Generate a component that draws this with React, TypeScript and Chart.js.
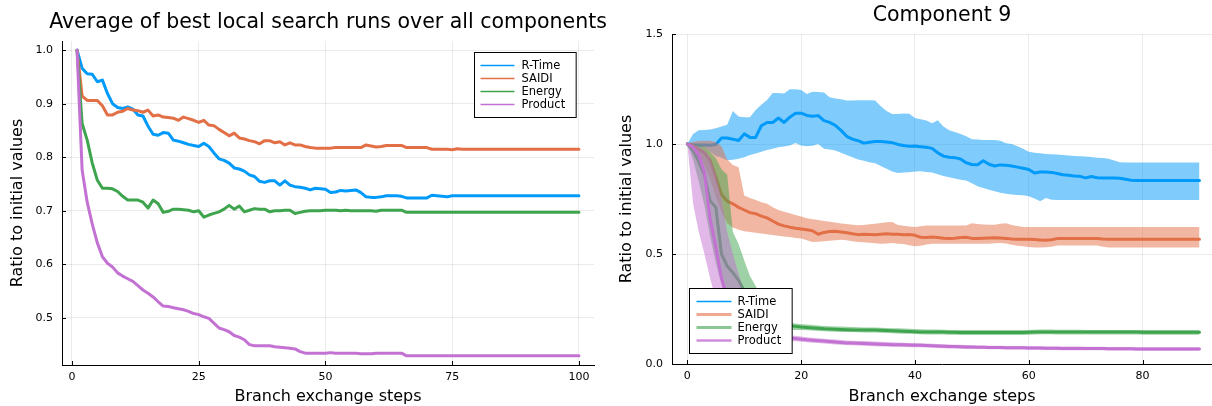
import React, { useEffect, useRef } from "react";
import { Chart, registerables } from "chart.js";
Chart.register(...registerables);

const FONT = "'DejaVu Sans', sans-serif";
const SERIES_NAMES = ["R-Time", "SAIDI", "Energy", "Product"];
const SERIES_COLORS = ["#009AFA", "#E36F47", "#3EA44E", "#C371D2"];
const RIBBON_COLORS = [
  "rgba(0,154,250,0.5)",
  "rgba(227,111,71,0.5)",
  "rgba(62,164,78,0.5)",
  "rgba(195,113,210,0.5)",
];

// ---------- Left chart: average of best local search runs ----------
const LEFT_TITLE = "Average of best local search runs over all components";
const avgSteps = Array.from({ length: 100 }, (_, i) => i + 1);
const avgXTicks = [0, 25, 50, 75, 100];
const avgYTicks = [0.5, 0.6, 0.7, 0.8, 0.9, 1.0];

const rtimeAvg = [
  1.0, 0.966, 0.956, 0.955, 0.941, 0.944, 0.919, 0.9, 0.893, 0.891,
  0.894, 0.89, 0.879, 0.877, 0.858, 0.843, 0.841, 0.846, 0.845, 0.832,
  0.83, 0.827, 0.824, 0.822, 0.82, 0.826, 0.82, 0.808, 0.797, 0.794,
  0.789, 0.78, 0.778, 0.774, 0.767, 0.764, 0.755, 0.753, 0.756, 0.756,
  0.748, 0.756, 0.748, 0.745, 0.744, 0.742, 0.739, 0.742, 0.741, 0.74,
  0.734, 0.735, 0.738, 0.737, 0.738, 0.739, 0.734, 0.726, 0.725, 0.725,
  0.726, 0.728, 0.728, 0.728, 0.727, 0.724, 0.724, 0.724, 0.724, 0.724,
  0.729, 0.728, 0.727, 0.726, 0.728, 0.728, 0.728, 0.728, 0.728, 0.728,
  0.728, 0.728, 0.728, 0.728, 0.728, 0.728, 0.728, 0.728, 0.728, 0.728,
  0.728, 0.728, 0.728, 0.728, 0.728, 0.728, 0.728, 0.728, 0.728, 0.728,
];
const saidiAvg = [
  1.0, 0.914, 0.906, 0.906, 0.906, 0.896, 0.879, 0.879, 0.884, 0.886,
  0.891, 0.888, 0.887, 0.884, 0.888, 0.877, 0.879, 0.875, 0.874, 0.873,
  0.869, 0.875, 0.872, 0.869, 0.865, 0.869, 0.86, 0.859, 0.852, 0.846,
  0.84, 0.845, 0.836, 0.834, 0.831, 0.829, 0.825, 0.831, 0.831, 0.827,
  0.829, 0.823, 0.827, 0.823, 0.823, 0.82, 0.818, 0.817, 0.817, 0.817,
  0.817, 0.818, 0.818, 0.818, 0.818, 0.818, 0.818, 0.823, 0.821, 0.819,
  0.82, 0.822, 0.822, 0.822, 0.822, 0.818, 0.818, 0.818, 0.818, 0.818,
  0.815, 0.815, 0.815, 0.815, 0.814, 0.816, 0.815, 0.815, 0.815, 0.815,
  0.815, 0.815, 0.815, 0.815, 0.815, 0.815, 0.815, 0.815, 0.815, 0.815,
  0.815, 0.815, 0.815, 0.815, 0.815, 0.815, 0.815, 0.815, 0.815, 0.815,
];
const energyAvg = [
  1.0, 0.863, 0.832, 0.789, 0.757, 0.742, 0.742, 0.741, 0.736, 0.727,
  0.72, 0.72, 0.72, 0.716, 0.705, 0.72, 0.713, 0.697, 0.699, 0.703,
  0.703, 0.702, 0.701, 0.698, 0.7, 0.688, 0.692, 0.695, 0.698, 0.703,
  0.71, 0.703, 0.709, 0.698, 0.701, 0.704, 0.703, 0.703, 0.698, 0.7,
  0.7, 0.701, 0.701, 0.695, 0.697, 0.699, 0.7, 0.7, 0.7, 0.701,
  0.701, 0.701, 0.7, 0.701, 0.7, 0.7, 0.7, 0.7, 0.7, 0.699,
  0.701, 0.701, 0.701, 0.701, 0.701, 0.697, 0.697, 0.697, 0.697, 0.697,
  0.697, 0.697, 0.697, 0.697, 0.697, 0.697, 0.697, 0.697, 0.697, 0.697,
  0.697, 0.697, 0.697, 0.697, 0.697, 0.697, 0.697, 0.697, 0.697, 0.697,
  0.697, 0.697, 0.697, 0.697, 0.697, 0.697, 0.697, 0.697, 0.697, 0.697,
];
const productAvg = [
  1.0, 0.776, 0.716, 0.675, 0.64, 0.614, 0.602, 0.595, 0.584, 0.578,
  0.573, 0.568, 0.56, 0.552, 0.546, 0.539, 0.53, 0.522, 0.521, 0.519,
  0.517, 0.515, 0.512, 0.508, 0.506, 0.502, 0.499, 0.49, 0.481, 0.478,
  0.474, 0.467, 0.464, 0.459, 0.45, 0.448, 0.448, 0.448, 0.448, 0.446,
  0.445, 0.444, 0.443, 0.442, 0.437, 0.434, 0.434, 0.434, 0.434, 0.434,
  0.435, 0.434, 0.434, 0.434, 0.434, 0.434, 0.433, 0.433, 0.433, 0.434,
  0.434, 0.434, 0.434, 0.434, 0.434, 0.429, 0.429, 0.429, 0.429, 0.429,
  0.429, 0.429, 0.429, 0.429, 0.429, 0.429, 0.429, 0.429, 0.429, 0.429,
  0.429, 0.429, 0.429, 0.429, 0.429, 0.429, 0.429, 0.429, 0.429, 0.429,
  0.429, 0.429, 0.429, 0.429, 0.429, 0.429, 0.429, 0.429, 0.429, 0.429,
];

// ---------- Right chart: Component 9 (mean with ribbons) ----------
const RIGHT_TITLE = "Component 9";
const compSteps = Array.from({ length: 91 }, (_, i) => i);
const compXTicks = [0, 20, 40, 60, 80];
const compYTicks = [0.0, 0.5, 1.0, 1.5];

const rtimeMean = [
  1.0, 0.997, 0.995, 0.995, 0.994, 0.998, 1.027, 1.027, 1.022, 1.016,
  1.046, 1.03, 1.03, 1.083, 1.098, 1.098, 1.118, 1.098, 1.122, 1.14,
  1.14, 1.13, 1.126, 1.129, 1.106, 1.098, 1.085, 1.062, 1.035, 1.022,
  1.015, 1.004, 1.008, 1.011, 1.011, 1.009, 1.006, 0.998, 0.993, 0.99,
  0.991, 0.988, 0.985, 0.98, 0.96, 0.945, 0.94, 0.938, 0.932, 0.915,
  0.907, 0.906, 0.924, 0.908, 0.9, 0.905, 0.903, 0.9, 0.895, 0.89,
  0.884, 0.868, 0.873, 0.873, 0.871, 0.866, 0.86, 0.858, 0.855, 0.853,
  0.846, 0.852, 0.847, 0.846, 0.846, 0.846, 0.844, 0.84, 0.835, 0.834,
  0.834, 0.834, 0.834, 0.834, 0.834, 0.834, 0.834, 0.834, 0.834, 0.834, 0.834,
];
const rtimeUpper = [
  1.0, 1.045, 1.062, 1.064, 1.066, 1.072, 1.08, 1.088, 1.15, 1.125,
  1.122, 1.122, 1.155, 1.178, 1.2, 1.232, 1.232, 1.23, 1.249, 1.249,
  1.245, 1.227, 1.238, 1.236, 1.234, 1.212, 1.207, 1.203, 1.198, 1.198,
  1.199, 1.199, 1.199, 1.198, 1.172, 1.15, 1.136, 1.136, 1.139, 1.137,
  1.118, 1.112, 1.107, 1.094, 1.108, 1.08, 1.063, 1.055, 1.046, 1.035,
  1.022, 1.02, 1.018, 1.018, 1.018, 1.015, 1.003, 1.0, 0.99, 0.978,
  0.965, 0.96, 0.958, 0.955, 0.953, 0.952, 0.95, 0.948, 0.946, 0.944,
  0.943, 0.941, 0.938, 0.936, 0.933, 0.925, 0.917, 0.916, 0.916, 0.916,
  0.916, 0.916, 0.916, 0.916, 0.916, 0.916, 0.916, 0.916, 0.916, 0.916, 0.916,
];
const rtimeLower = [
  1.0, 0.995, 0.99, 0.983, 0.965, 0.945, 0.937, 0.926, 0.928, 0.933,
  0.94, 0.95, 0.957, 0.965, 0.973, 0.978, 0.985, 0.989, 0.993, 1.004,
  0.993, 0.99, 0.992, 1.0, 0.978, 0.975, 0.97, 0.96, 0.95, 0.94,
  0.93, 0.924, 0.917, 0.912, 0.9, 0.888, 0.875, 0.868, 0.871, 0.872,
  0.875, 0.876, 0.873, 0.871, 0.862, 0.855, 0.849, 0.843, 0.838, 0.834,
  0.822, 0.808, 0.8, 0.792, 0.785, 0.778, 0.774, 0.77, 0.768, 0.767,
  0.762, 0.752, 0.74, 0.755, 0.747, 0.746, 0.746, 0.746, 0.746, 0.746,
  0.746, 0.746, 0.746, 0.746, 0.746, 0.746, 0.746, 0.746, 0.746, 0.746,
  0.746, 0.746, 0.746, 0.746, 0.746, 0.746, 0.746, 0.746, 0.746, 0.746, 0.746,
];
const saidiMean = [
  1.0, 0.992, 0.975, 0.96, 0.925, 0.85, 0.77, 0.74, 0.728, 0.712,
  0.7, 0.688, 0.683, 0.672, 0.664, 0.65, 0.636, 0.628, 0.622, 0.617,
  0.614, 0.61, 0.606, 0.59, 0.598, 0.602, 0.603, 0.6, 0.597, 0.592,
  0.588, 0.59, 0.589, 0.588, 0.59, 0.592, 0.59, 0.59, 0.588, 0.589,
  0.585, 0.576, 0.575, 0.577, 0.575, 0.572, 0.57, 0.572, 0.575, 0.576,
  0.571, 0.57, 0.572, 0.573, 0.574, 0.573, 0.571, 0.568, 0.567, 0.567,
  0.567, 0.566, 0.564, 0.562, 0.565, 0.57, 0.57, 0.57, 0.57, 0.57,
  0.57, 0.57, 0.57, 0.568, 0.567, 0.567, 0.567, 0.567, 0.567, 0.567,
  0.567, 0.567, 0.567, 0.567, 0.567, 0.567, 0.567, 0.567, 0.567, 0.567, 0.567,
];
const saidiUpper = [
  1.0, 1.01, 1.014, 1.015, 1.015, 1.008, 0.99, 0.93, 0.905, 0.894,
  0.766, 0.755, 0.745, 0.735, 0.728, 0.712, 0.7, 0.692, 0.685, 0.677,
  0.67, 0.663, 0.658, 0.654, 0.65, 0.647, 0.643, 0.639, 0.636, 0.633,
  0.631, 0.632, 0.635, 0.638, 0.641, 0.644, 0.645, 0.632, 0.628, 0.625,
  0.623, 0.626, 0.629, 0.63, 0.63, 0.63, 0.63, 0.63, 0.63, 0.63,
  0.64, 0.636, 0.634, 0.633, 0.633, 0.638, 0.64, 0.632, 0.627, 0.623,
  0.623, 0.623, 0.623, 0.623, 0.623, 0.623, 0.623, 0.623, 0.623, 0.623,
  0.623, 0.623, 0.623, 0.623, 0.623, 0.623, 0.623, 0.623, 0.623, 0.623,
  0.623, 0.623, 0.623, 0.623, 0.623, 0.623, 0.623, 0.623, 0.623, 0.623, 0.623,
];
const saidiLower = [
  1.0, 0.975, 0.945, 0.9, 0.84, 0.76, 0.69, 0.64, 0.62, 0.61,
  0.603, 0.6, 0.597, 0.593, 0.59, 0.586, 0.583, 0.58, 0.577, 0.573,
  0.57, 0.562, 0.555, 0.556, 0.558, 0.56, 0.563, 0.565, 0.562, 0.558,
  0.555, 0.553, 0.551, 0.549, 0.547, 0.548, 0.55, 0.547, 0.545, 0.54,
  0.535, 0.538, 0.543, 0.547, 0.547, 0.547, 0.547, 0.547, 0.547, 0.547,
  0.547, 0.547, 0.547, 0.547, 0.549, 0.55, 0.548, 0.542, 0.537, 0.535,
  0.532, 0.53, 0.529, 0.531, 0.533, 0.539, 0.539, 0.539, 0.539, 0.539,
  0.539, 0.539, 0.539, 0.533, 0.529, 0.529, 0.529, 0.529, 0.529, 0.529,
  0.529, 0.529, 0.529, 0.529, 0.529, 0.529, 0.529, 0.529, 0.529, 0.529, 0.529,
];
const energyMean = [
  1.0, 0.97, 0.92, 0.86, 0.742, 0.713, 0.5, 0.445, 0.415, 0.38,
  0.33, 0.29, 0.255, 0.228, 0.208, 0.195, 0.185, 0.178, 0.174, 0.171,
  0.168, 0.166, 0.164, 0.162, 0.16, 0.159, 0.158, 0.157, 0.156, 0.155,
  0.155, 0.154, 0.154, 0.154, 0.153, 0.152, 0.151, 0.15, 0.149, 0.148,
  0.147, 0.146, 0.145, 0.145, 0.145, 0.145, 0.144, 0.144, 0.143, 0.143,
  0.143, 0.143, 0.143, 0.143, 0.143, 0.143, 0.143, 0.143, 0.143, 0.143,
  0.144, 0.145, 0.146, 0.146, 0.146, 0.145, 0.145, 0.145, 0.145, 0.145,
  0.145, 0.145, 0.145, 0.145, 0.145, 0.145, 0.145, 0.145, 0.145, 0.145,
  0.144, 0.144, 0.144, 0.144, 0.144, 0.144, 0.144, 0.144, 0.144, 0.144, 0.144,
];
const energyUpper = [
  1.0, 1.0, 0.995, 0.985, 0.965, 0.935, 0.885, 0.86, 0.6, 0.545,
  0.47, 0.4, 0.355, 0.31, 0.27, 0.24, 0.215, 0.198, 0.188, 0.184,
  0.181, 0.179, 0.177, 0.175, 0.173, 0.172, 0.171, 0.17, 0.169, 0.168,
  0.167, 0.166, 0.166, 0.166, 0.165, 0.164, 0.163, 0.162, 0.161, 0.16,
  0.159, 0.158, 0.157, 0.157, 0.157, 0.156, 0.155, 0.155, 0.154, 0.154,
  0.154, 0.154, 0.154, 0.154, 0.154, 0.154, 0.154, 0.154, 0.154, 0.154,
  0.155, 0.156, 0.157, 0.157, 0.157, 0.156, 0.156, 0.156, 0.156, 0.156,
  0.155, 0.155, 0.155, 0.155, 0.155, 0.155, 0.155, 0.155, 0.155, 0.155,
  0.155, 0.155, 0.155, 0.155, 0.155, 0.155, 0.155, 0.155, 0.155, 0.155, 0.155,
];
const energyLower = [
  1.0, 0.93, 0.83, 0.72, 0.58, 0.46, 0.36, 0.3, 0.26, 0.23,
  0.205, 0.19, 0.18, 0.172, 0.166, 0.162, 0.16, 0.158, 0.156, 0.155,
  0.154, 0.153, 0.152, 0.15, 0.149, 0.148, 0.147, 0.146, 0.145, 0.145,
  0.144, 0.143, 0.143, 0.143, 0.142, 0.141, 0.14, 0.139, 0.138, 0.137,
  0.136, 0.135, 0.134, 0.134, 0.134, 0.134, 0.133, 0.133, 0.132, 0.132,
  0.132, 0.132, 0.132, 0.132, 0.132, 0.132, 0.132, 0.132, 0.132, 0.132,
  0.133, 0.134, 0.135, 0.135, 0.135, 0.134, 0.134, 0.134, 0.134, 0.134,
  0.134, 0.134, 0.134, 0.134, 0.134, 0.134, 0.134, 0.134, 0.134, 0.134,
  0.133, 0.133, 0.133, 0.133, 0.133, 0.133, 0.133, 0.133, 0.133, 0.133, 0.133,
];
const productMean = [
  1.0, 0.985, 0.95, 0.87, 0.66, 0.53, 0.39, 0.3, 0.245, 0.205,
  0.18, 0.163, 0.15, 0.14, 0.133, 0.128, 0.124, 0.121, 0.118, 0.116,
  0.113, 0.11, 0.108, 0.106, 0.104, 0.102, 0.1, 0.098, 0.096, 0.095,
  0.094, 0.093, 0.092, 0.091, 0.09, 0.089, 0.088, 0.088, 0.087, 0.086,
  0.085, 0.085, 0.084, 0.083, 0.082, 0.081, 0.08, 0.079, 0.078, 0.077,
  0.077, 0.076, 0.076, 0.075, 0.075, 0.075, 0.074, 0.074, 0.074, 0.074,
  0.073, 0.073, 0.073, 0.072, 0.072, 0.072, 0.071, 0.071, 0.071, 0.071,
  0.07, 0.07, 0.07, 0.07, 0.069, 0.069, 0.069, 0.069, 0.069, 0.068,
  0.068, 0.068, 0.068, 0.068, 0.068, 0.068, 0.068, 0.068, 0.068, 0.068, 0.068,
];
const productUpper = [
  1.0, 1.0, 0.99, 0.97, 0.94, 0.86, 0.75, 0.6, 0.5, 0.41,
  0.33, 0.27, 0.225, 0.19, 0.168, 0.152, 0.142, 0.135, 0.13, 0.128,
  0.125, 0.122, 0.119, 0.117, 0.115, 0.113, 0.111, 0.109, 0.107, 0.106,
  0.105, 0.104, 0.103, 0.102, 0.101, 0.1, 0.099, 0.098, 0.097, 0.096,
  0.095, 0.094, 0.093, 0.092, 0.091, 0.09, 0.089, 0.088, 0.087, 0.086,
  0.085, 0.084, 0.084, 0.083, 0.083, 0.083, 0.082, 0.082, 0.082, 0.082,
  0.081, 0.081, 0.081, 0.08, 0.08, 0.08, 0.079, 0.079, 0.079, 0.079,
  0.078, 0.078, 0.078, 0.078, 0.077, 0.077, 0.077, 0.077, 0.077, 0.076,
  0.076, 0.076, 0.076, 0.076, 0.076, 0.076, 0.076, 0.076, 0.076, 0.076, 0.076,
];
const productLower = [
  1.0, 0.73, 0.6, 0.5, 0.39, 0.29, 0.21, 0.16, 0.13, 0.115,
  0.108, 0.104, 0.102, 0.101, 0.101, 0.101, 0.102, 0.102, 0.103, 0.103,
  0.101, 0.099, 0.097, 0.095, 0.093, 0.091, 0.089, 0.087, 0.086, 0.085,
  0.084, 0.083, 0.082, 0.081, 0.08, 0.079, 0.078, 0.078, 0.077, 0.076,
  0.076, 0.076, 0.075, 0.074, 0.073, 0.072, 0.071, 0.07, 0.069, 0.068,
  0.068, 0.068, 0.068, 0.067, 0.067, 0.067, 0.066, 0.066, 0.066, 0.066,
  0.065, 0.065, 0.065, 0.064, 0.064, 0.064, 0.063, 0.063, 0.063, 0.063,
  0.062, 0.062, 0.062, 0.062, 0.061, 0.061, 0.061, 0.061, 0.061, 0.06,
  0.06, 0.06, 0.06, 0.06, 0.06, 0.06, 0.06, 0.06, 0.06, 0.06, 0.06,
];

// ---------- helpers ----------
type LegendItem = { label: string; color: string; width: number };

function toXY(xs: number[], ys: number[]) {
  return ys.map((y, i) => ({ x: xs[i], y }));
}

function makePlugin(opts: {
  title: string;
  legend: LegendItem[];
  legendPos: "topright" | "bottomleft";
  lineStart: number;
  lineEnd: number;
  textStart: number;
}) {
  return {
    id: "customDecor",
    afterDraw(chart: any) {
      const { ctx, chartArea, scales } = chart;
      ctx.save();
      // inward tick marks
      ctx.strokeStyle = "#000";
      ctx.lineWidth = 1;
      ctx.beginPath();
      scales.x.ticks.forEach((t: any) => {
        const px = Math.round(scales.x.getPixelForValue(t.value)) + 0.5;
        ctx.moveTo(px, chartArea.bottom);
        ctx.lineTo(px, chartArea.bottom - 4);
      });
      scales.y.ticks.forEach((t: any) => {
        const py = Math.round(scales.y.getPixelForValue(t.value)) + 0.5;
        ctx.moveTo(chartArea.left, py);
        ctx.lineTo(chartArea.left + 4, py);
      });
      ctx.stroke();

      // title centered on plot area
      ctx.fillStyle = "#000";
      ctx.font = `20.5px ${FONT}`;
      ctx.textAlign = "center";
      ctx.textBaseline = "alphabetic";
      ctx.fillText(opts.title, (chartArea.left + chartArea.right) / 2, chartArea.top - 13);

      // legend
      ctx.font = `11.5px ${FONT}`;
      let maxW = 0;
      opts.legend.forEach((it) => {
        maxW = Math.max(maxW, ctx.measureText(it.label).width);
      });
      const boxW = opts.textStart + maxW + 11;
      const rowH = 13;
      const boxH = rowH * (opts.legend.length + 1);
      let bx: number, by: number;
      if (opts.legendPos === "topright") {
        bx = chartArea.right - 18 - boxW;
        by = chartArea.top + 11;
      } else {
        bx = chartArea.left + 17;
        by = chartArea.bottom - 11 - boxH;
      }
      bx = Math.round(bx) + 0.5;
      by = Math.round(by) + 0.5;
      ctx.fillStyle = "#fff";
      ctx.fillRect(bx, by, boxW, boxH);
      ctx.strokeStyle = "#000";
      ctx.lineWidth = 1;
      ctx.strokeRect(bx, by, boxW, boxH);
      ctx.textAlign = "left";
      ctx.textBaseline = "middle";
      opts.legend.forEach((it, i) => {
        const cy = by + rowH * (i + 1);
        ctx.strokeStyle = it.color;
        ctx.lineWidth = it.width;
        ctx.beginPath();
        ctx.moveTo(bx + opts.lineStart, cy);
        ctx.lineTo(bx + opts.lineEnd, cy);
        ctx.stroke();
        ctx.fillStyle = "#000";
        ctx.fillText(it.label, bx + opts.textStart, cy + 0.5);
      });
      ctx.restore();
    },
  };
}

function axisCommon(ticks: number[], decimals: number | null, fitKey: "width" | "height", fitVal: number, title: string, titlePad: any) {
  return {
    type: "linear" as const,
    grid: { color: "rgba(0,0,0,0.08)", lineWidth: 1, drawTicks: false },
    border: { display: true, color: "#000", width: 1 },
    ticks: {
      color: "#000",
      font: { family: FONT, size: 11 },
      padding: fitKey === "width" ? 9 : 6,
      maxRotation: 0,
      autoSkip: false,
      callback: (v: any) => (decimals === null ? String(v) : Number(v).toFixed(decimals)),
    },
    afterBuildTicks: (scale: any) => {
      scale.ticks = ticks.map((v) => ({ value: v }));
    },
    afterFit: (scale: any) => {
      scale[fitKey] = fitVal;
    },
    title: {
      display: true,
      text: title,
      color: "#000",
      font: { family: FONT, size: 16 },
      padding: titlePad,
    },
  };
}

export default function App() {
  const leftRef = useRef<HTMLCanvasElement>(null);
  const rightRef = useRef<HTMLCanvasElement>(null);

  useEffect(() => {
    const leftSeries = [rtimeAvg, saidiAvg, energyAvg, productAvg];
    const leftChart = new Chart(leftRef.current!, {
      type: "line",
      data: {
        datasets: leftSeries.map((s, i) => ({
          label: SERIES_NAMES[i],
          data: toXY(avgSteps, s),
          borderColor: SERIES_COLORS[i],
          borderWidth: 3,
          pointRadius: 0,
          tension: 0,
          fill: false,
          borderJoinStyle: "round" as const,
          borderCapStyle: "round" as const,
          order: 10 - i,
        })),
      },
      options: {
        responsive: false,
        animation: false,
        devicePixelRatio: window.devicePixelRatio || 1,
        layout: { padding: { left: 0, right: 12, top: 41, bottom: 0 } },
        plugins: { legend: { display: false }, tooltip: { enabled: false }, title: { display: false } },
        scales: {
          x: { ...axisCommon(avgXTicks, null, "height", 41, "Branch exchange steps", { top: 0, bottom: 0 }), min: -1.97, max: 102.97 },
          y: { ...axisCommon(avgYTicks, 1, "width", 62, "Ratio to initial values", { top: 8, bottom: 0 }), min: 0.4119, max: 1.0171 },
        },
      } as any,
      plugins: [
        makePlugin({
          title: LEFT_TITLE,
          legend: SERIES_NAMES.map((n, i) => ({ label: n, color: SERIES_COLORS[i], width: 1.5 })),
          legendPos: "topright",
          lineStart: 6,
          lineEnd: 40,
          textStart: 47,
        }),
      ],
    });

    const means = [rtimeMean, saidiMean, energyMean, productMean];
    const uppers = [rtimeUpper, saidiUpper, energyUpper, productUpper];
    const lowers = [rtimeLower, saidiLower, energyLower, productLower];
    const rightDatasets: any[] = [];
    means.forEach((m, i) => {
      const base = i * 3;
      const ord = 40 - i * 10;
      rightDatasets.push({
        label: SERIES_NAMES[i] + " upper",
        data: toXY(compSteps, uppers[i]),
        borderColor: "rgba(0,0,0,0)",
        borderWidth: 0,
        backgroundColor: RIBBON_COLORS[i],
        pointRadius: 0,
        tension: 0,
        fill: base + 1,
        order: ord,
      });
      rightDatasets.push({
        label: SERIES_NAMES[i] + " lower",
        data: toXY(compSteps, lowers[i]),
        borderColor: "rgba(0,0,0,0)",
        borderWidth: 0,
        pointRadius: 0,
        tension: 0,
        fill: false,
        order: ord,
      });
      rightDatasets.push({
        label: SERIES_NAMES[i],
        data: toXY(compSteps, m),
        borderColor: SERIES_COLORS[i],
        borderWidth: 3,
        pointRadius: 0,
        tension: 0,
        fill: false,
        borderJoinStyle: "round",
        borderCapStyle: "round",
        order: ord - 5,
      });
    });

    const rightChart = new Chart(rightRef.current!, {
      type: "line",
      data: { datasets: rightDatasets },
      options: {
        responsive: false,
        animation: false,
        devicePixelRatio: window.devicePixelRatio || 1,
        layout: { padding: { left: 0, right: 0, top: 34, bottom: 0 } },
        plugins: { legend: { display: false }, tooltip: { enabled: false }, title: { display: false } },
        scales: {
          x: { ...axisCommon(compXTicks, null, "height", 42, "Branch exchange steps", { top: 0, bottom: 0 }), min: -2.7, max: 92.2 },
          y: { ...axisCommon(compYTicks, 1, "width", 66, "Ratio to initial values", { top: 11, bottom: 0 }), min: 0, max: 1.5 },
        },
      } as any,
      plugins: [
        makePlugin({
          title: RIGHT_TITLE,
          legend: [
            { label: "R-Time", color: SERIES_COLORS[0], width: 1.5 },
            { label: "SAIDI", color: "rgba(227,111,71,0.6)", width: 3 },
            { label: "Energy", color: "rgba(62,164,78,0.6)", width: 3 },
            { label: "Product", color: "rgba(195,113,210,0.8)", width: 2.5 },
          ],
          legendPos: "bottomleft",
          lineStart: 7,
          lineEnd: 42,
          textStart: 48,
        }),
      ],
    });

    return () => {
      leftChart.destroy();
      rightChart.destroy();
    };
  }, []);

  return (
    <div style={{ position: "absolute", left: 0, top: 0, width: 1212, height: 406, background: "#fff", overflow: "hidden" }}>
      <canvas ref={leftRef} width={606} height={406} style={{ position: "absolute", left: 0, top: 0, width: 606, height: 406 }} />
      <canvas ref={rightRef} width={606} height={406} style={{ position: "absolute", left: 606, top: 0, width: 606, height: 406 }} />
    </div>
  );
}
